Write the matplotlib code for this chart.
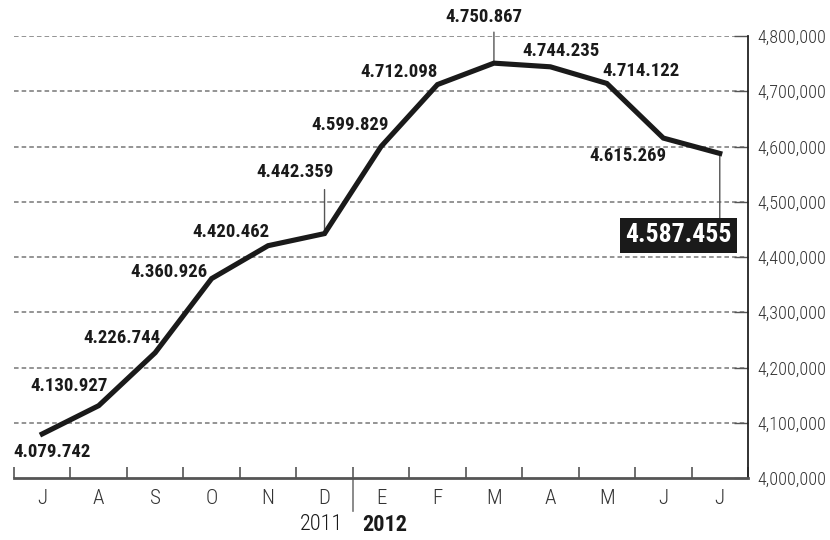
import matplotlib
matplotlib.use('Agg')
import matplotlib.pyplot as plt
import matplotlib.transforms as mtransforms
from matplotlib import font_manager

# monthly values, July 2011 - July 2012
months = ['J', 'A', 'S', 'O', 'N', 'D', 'E', 'F', 'M', 'A', 'M', 'J', 'J']
values = [4079742, 4130927, 4226744, 4360926, 4420462, 4442359, 4599829,
          4712098, 4750867, 4744235, 4714122, 4615269, 4587455]
value_labels = ['4.079.742', '4.130.927', '4.226.744', '4.360.926', '4.420.462',
                '4.442.359', '4.599.829', '4.712.098', '4.750.867', '4.744.235',
                '4.714.122', '4.615.269', '4.587.455']
y_ticks = [4000000, 4100000, 4200000, 4300000, 4400000, 4500000, 4600000, 4700000, 4800000]
y_tick_labels = ['4,000,000', '4,100,000', '4,200,000', '4,300,000', '4,400,000',
                 '4,500,000', '4,600,000', '4,700,000', '4,800,000']
years = ['2011', '2012']

'''label offsets in pixels from each point'''
label_offsets = [(10, -18), (-30, 20), (-33, 15), (-43, 7), (-37, 14), (-29, 62), (-31, 22),
                 (-38, 13), (-10, 46), (11, 16), (34, 12), (-35, -18), (-41, -82)]
'''leader lines: index -> vertical length in pixels'''
leaders = {5: 44, 8: 31, 12: -65}

'''looking for a condensed face, the original uses a DIN-like condensed type'''
entries = font_manager.fontManager.ttflist
installed = {f.name for f in entries}
narrow, narrow_stretch = None, 'normal'
for cand in ['Roboto Condensed', 'Liberation Sans Narrow', 'Open Sans Condensed', 'DejaVu Sans Condensed']:
    if cand in installed:
        narrow = cand
        break
if narrow is None:
    for f in entries:
        if f.stretch in ('condensed', 'semi-condensed', 'extra-condensed', 'ultra-condensed'):
            narrow, narrow_stretch = f.name, 'condensed'
            break
if narrow is None:
    narrow = 'Liberation Sans'
cond = dict(family=narrow, stretch=narrow_stretch)

fig = plt.figure(figsize=(8.3, 5.4), dpi=100)
ax = fig.add_axes([14 / 830, 1 - 478 / 540, (748 - 14) / 830, (478 - 36) / 540])

x = list(range(len(values)))

'''dashed grid lines'''
for level in y_ticks[1:]:
    ax.axhline(level, color='#777777', lw=1.1, ls=(0, (3, 2)), zorder=1)

ax.plot(x, values, color='#1a1a1a', lw=3.7, solid_joinstyle='miter', zorder=3)

for i, (val, lab) in enumerate(zip(values, value_labels)):
    dx, dy = label_offsets[i]
    if i in leaders:
        ax.annotate('', xy=(i, val), xytext=(0, leaders[i]), textcoords='offset pixels',
                    arrowprops=dict(arrowstyle='-', color='#555555', lw=1.0, shrinkA=0, shrinkB=0),
                    zorder=2)
    if i == len(values) - 1:
        '''latest value gets the black box'''
        ax.annotate(lab, xy=(i, val), xytext=(dx, dy), textcoords='offset pixels',
                    ha='center', va='center', fontsize=18.5, fontweight='bold',
                    color='white', zorder=5,
                    bbox=dict(boxstyle='square,pad=0.2', fc='#1a1a1a', ec='none'), **cond)
    else:
        ax.annotate(lab, xy=(i, val), xytext=(dx, dy), textcoords='offset pixels',
                    ha='center', va='center', fontsize=13.5, fontweight='bold',
                    color='#1a1a1a', zorder=4, **cond)

ax.set_xlim(-0.5, len(values) - 0.5)
ax.set_ylim(y_ticks[0], y_ticks[-1])

for side in ['top', 'left']:
    ax.spines[side].set_visible(False)
ax.spines['right'].set_color('#222222')
ax.spines['right'].set_linewidth(1.3)
ax.spines['bottom'].set_color('#555555')
ax.spines['bottom'].set_linewidth(2)

ax.yaxis.tick_right()
ax.set_yticks(y_ticks)
ax.set_yticklabels(y_tick_labels, fontsize=13, fontweight='light', color='#333333', **cond)
ax.tick_params(axis='y', direction='in', length=10, width=1, color='#555555', pad=7)

ax.set_xticks(x)
ax.set_xticklabels(months, fontsize=15, fontweight='light', color='#333333', **cond)
ax.set_xticks([i - 0.5 for i in range(len(values) + 1)], minor=True)
ax.tick_params(axis='x', which='major', length=0, pad=8)
ax.tick_params(axis='x', which='minor', direction='in', length=8, width=1.2, color='#555555')

'''year separator and year labels'''
trans = mtransforms.blended_transform_factory(ax.transData, ax.transAxes)
ax.plot([5.5, 5.5], [0.02, -0.075], transform=trans, color='#777777', lw=1.2, clip_on=False)
ax.text(5.33, -0.106, years[0], transform=trans, ha='right', va='center',
        fontsize=16, fontweight='light', color='#1a1a1a', **cond)
ax.text(5.67, -0.106, years[1], transform=trans, ha='left', va='center',
        fontsize=16, fontweight='bold', color='#1a1a1a', **cond)

fig.savefig('out.png', dpi=100)
